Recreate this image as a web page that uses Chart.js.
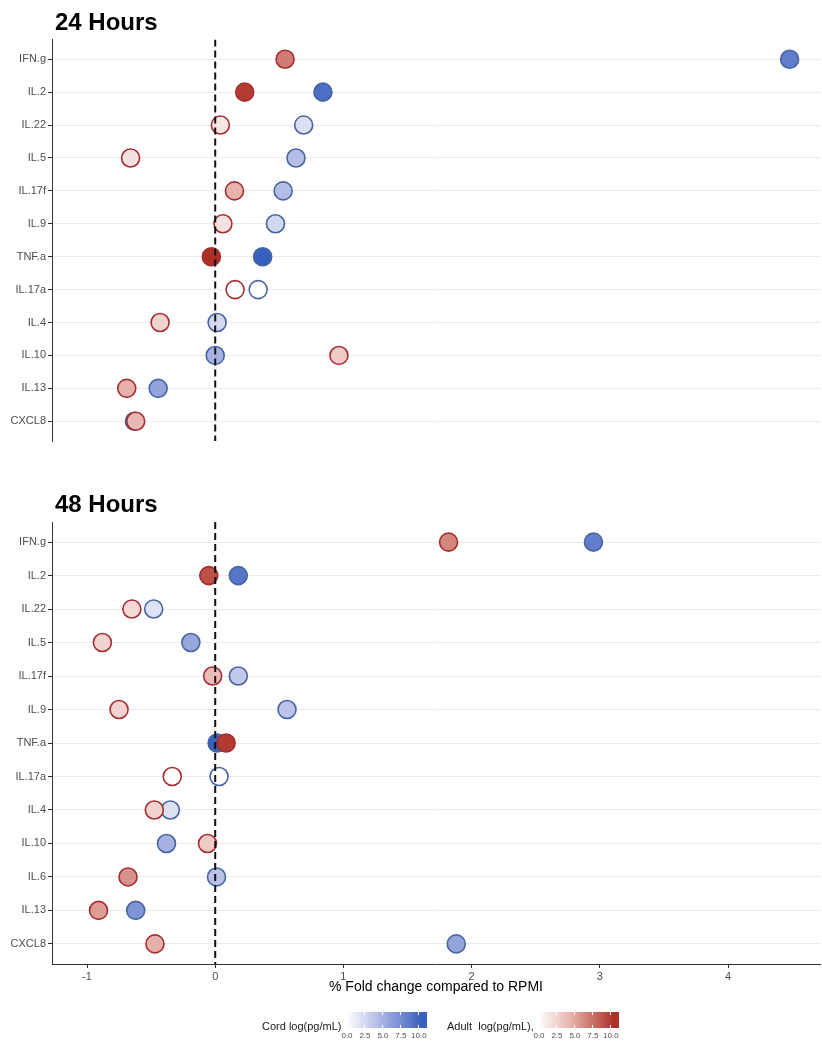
<!DOCTYPE html>
<html>
<head>
<meta charset="utf-8">
<script src="https://cdn.jsdelivr.net/npm/chart.js@4.4.1/dist/chart.umd.min.js"></script>
<style>
  body { margin: 0; background: #fff; font-family: "Liberation Sans", Arial, sans-serif; }
  #wrap { position: relative; width: 822px; height: 1045px; }
  canvas { position: absolute; left: 0; }
  .panel-title { position: absolute; left: 55px; font-size: 24px; line-height: 24px; font-weight: bold; color: #000; }
  .leg-title { position: absolute; font-size: 11px; color: #1a1a1a; line-height: 12px; }
  .leg-bar { position: absolute; height: 16px; }
  .leg-tick { position: absolute; width: 1px; background: #fff; }
  .leg-lab { position: absolute; font-size: 8px; color: #4d4d4d; transform: translateX(-50%); top: 1031px; }
</style>
</head>
<body>
<div id="wrap">
  <canvas id="chart24" width="822" height="490" style="top:0"></canvas>
  <canvas id="chart48" width="822" height="555" style="top:490px"></canvas>
  <div class="panel-title" style="top:10px">24 Hours</div>
  <div class="panel-title" style="top:492px">48 Hours</div>
  <div id="legend"></div>
</div>
<script>
// 24 hour panel
const cytokines24 = ['IFN.g', 'IL.2', 'IL.22', 'IL.5', 'IL.17f', 'IL.9', 'TNF.a', 'IL.17a', 'IL.4', 'IL.10', 'IL.13', 'CXCL8'];
const cordFold24 = [4.48, 0.84, 0.69, 0.63, 0.53, 0.47, 0.37, 0.335, 0.015, 0.0, -0.445, -0.63];
const adultFold24 = [0.545, 0.23, 0.04, -0.66, 0.15, 0.06, -0.03, 0.155, -0.43, 0.965, -0.69, -0.62];
const cordLevel24 = [8.5, 9.5, 2, 4.2, 4.3, 2.6, 10.5, 0, 2.5, 5, 6, 6];
const adultLevel24 = [7, 10, 1.5, 1.7, 4.3, 1.7, 10.5, 0, 2.5, 3, 4.5, 4];

// 48 hour panel
const cytokines48 = ['IFN.g', 'IL.2', 'IL.22', 'IL.5', 'IL.17f', 'IL.9', 'TNF.a', 'IL.17a', 'IL.4', 'IL.10', 'IL.6', 'IL.13', 'CXCL8'];
const cordFold48 = [2.95, 0.18, -0.48, -0.19, 0.18, 0.56, 0.015, 0.03, -0.35, -0.38, 0.01, -0.62, 1.88];
const adultFold48 = [1.82, -0.05, -0.65, -0.88, -0.02, -0.75, 0.085, -0.335, -0.475, -0.06, -0.68, -0.91, -0.47];
const cordLevel48 = [8.5, 9, 1.9, 5.8, 3.5, 3.8, 10.5, 0, 2, 5, 4, 7, 6];
const adultLevel48 = [6.5, 9, 2.1, 2.5, 3.8, 2.5, 10, 0, 2.5, 3, 6, 5.5, 4.5];

const xTicks = [-1, 0, 1, 2, 3, 4];
const legendTicks = [0, 2.5, 5, 7.5, 10];
const refLine = 0;

// colour ramps for log(pg/mL)
const cordStops = [[0, [255, 255, 255]], [5, [168, 178, 226]], [10.5, [55, 96, 190]]];
const adultStops = [[0, [255, 255, 255]], [5, [226, 168, 160]], [10.5, [172, 48, 38]]];

function levelColor(stops, v) {
  for (let i = 1; i < stops.length; i++) {
    if (v <= stops[i][0] || i === stops.length - 1) {
      const [a, ca] = stops[i - 1];
      const [b, cb] = stops[i];
      const t = Math.max(0, Math.min(1, (v - a) / (b - a)));
      const c = ca.map((x, k) => Math.round(x + (cb[k] - x) * t));
      return `rgb(${c[0]},${c[1]},${c[2]})`;
    }
  }
}

Chart.defaults.font.family = '"Liberation Sans", Arial, sans-serif';

function makePanel(id, cats, cordX, adultX, cordLv, adultLv, showX, padTop, padBottom) {
  const yMin = -0.6;
  const yMax = cats.length - 0.4;
  return new Chart(document.getElementById(id), {
    type: 'scatter',
    data: {
      datasets: [
        {
          type: 'line',
          data: [{ x: refLine, y: yMin }, { x: refLine, y: yMax }],
          showLine: true,
          borderColor: '#111',
          borderWidth: 2,
          borderDash: [7, 4],
          pointRadius: 0,
          order: 0
        },
        {
          label: 'Adult',
          data: adultX.map((v, i) => ({ x: v, y: i })),
          backgroundColor: adultLv.map(l => levelColor(adultStops, l)),
          borderColor: '#a52d31',
          borderWidth: 1.6,
          pointRadius: 9,
          order: 1
        },
        {
          label: 'Cord',
          data: cordX.map((v, i) => ({ x: v, y: i })),
          backgroundColor: cordLv.map(l => levelColor(cordStops, l)),
          borderColor: '#46659f',
          borderWidth: 1.6,
          pointRadius: 9,
          order: 2
        }
      ]
    },
    options: {
      responsive: false,
      animation: false,
      events: [],
      layout: { autoPadding: false, padding: { top: padTop, bottom: padBottom, left: 0, right: 2 } },
      plugins: { legend: { display: false }, tooltip: { enabled: false } },
      scales: {
        x: {
          type: 'linear',
          min: -1.273,
          max: 4.717,
          display: showX,
          afterBuildTicks: s => { s.ticks = xTicks.map(v => ({ value: v })); },
          afterFit: s => { s.height = 40; },
          grid: { drawOnChartArea: false, tickColor: '#333', tickLength: 4 },
          border: { color: '#333', width: 1 },
          ticks: { color: '#4d4d4d', font: { size: 11 }, padding: 2 },
          title: {
            display: true,
            text: '% Fold change compared to RPMI',
            color: '#000',
            font: { size: 14 },
            padding: { top: 4, bottom: 8 }
          }
        },
        y: {
          type: 'linear',
          reverse: true,
          min: yMin,
          max: yMax,
          afterBuildTicks: s => { s.ticks = cats.map((c, i) => ({ value: i })); },
          afterFit: s => { s.width = 52; },
          grid: { color: '#ebebeb', lineWidth: 1, tickColor: '#333', tickLength: 4 },
          border: { color: '#333', width: 1 },
          ticks: { color: '#4d4d4d', font: { size: 11 }, padding: 2, autoSkip: false, callback: v => cats[v] }
        }
      }
    }
  });
}

makePanel('chart24', cytokines24, cordFold24, adultFold24, cordLevel24, adultLevel24, false, 39.5, 9);
makePanel('chart48', cytokines48, cordFold48, adultFold48, cordLevel48, adultLevel48, true, 32, 41);

// colour bar legends
function colorBar(title, titleLeft, barLeft, stops) {
  const leg = document.getElementById('legend');
  const barW = 83, lo = -0.35, hi = 11.2;
  const grad = [];
  for (let v = 0; v <= 10.5; v += 1.5) {
    grad.push(`${levelColor(stops, v)} ${((v - lo) / (hi - lo) * 100).toFixed(1)}%`);
  }
  leg.insertAdjacentHTML('beforeend',
    `<div class="leg-title" style="left:${titleLeft}px;top:1020px">${title}</div>` +
    `<div class="leg-bar" style="left:${barLeft}px;top:1012px;width:${barW}px;background:linear-gradient(to right, #fff 0%, ${grad.join(',')}, ${levelColor(stops, 10.5)} 100%)"></div>`);
  legendTicks.forEach(t => {
    const x = barLeft + (t - lo) / (hi - lo) * barW;
    leg.insertAdjacentHTML('beforeend',
      `<div class="leg-tick" style="left:${x}px;top:1012px;height:3px"></div>` +
      `<div class="leg-tick" style="left:${x}px;top:1025px;height:3px"></div>` +
      `<div class="leg-lab" style="left:${x + 0.5}px">${t.toFixed(1)}</div>`);
  });
}
colorBar('Cord log(pg/mL)', 262, 344, cordStops);
colorBar('Adult&nbsp; log(pg/mL),', 447, 536, adultStops);
</script>
</body>
</html>
